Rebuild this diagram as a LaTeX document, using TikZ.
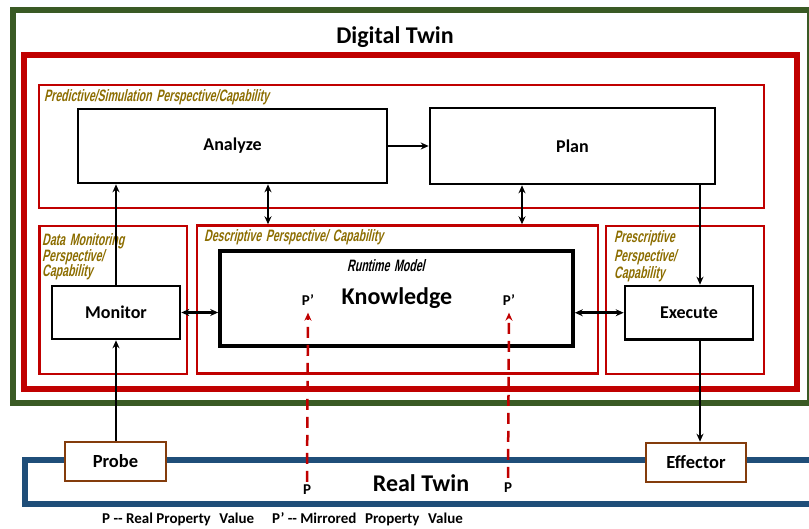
\documentclass[tikz,border=0pt]{standalone}
\usepackage{fontspec}
\setmainfont{Carlito}
\newfontfamily\labfont[FakeStretch=0.64,FakeSlant=0.22,WordSpace=1.6]{Liberation Sans}
\usetikzlibrary{arrows.meta,calc}
\definecolor{dtgreen}{HTML}{3A5A24}
\definecolor{dtred}{HTML}{C00000}
\definecolor{rtblue}{HTML}{1F4E79}
\definecolor{pbrown}{HTML}{843C0C}
\definecolor{labgold}{HTML}{8C6D00}
\tikzset{
  box/.style={draw=black,line width=2.6pt,fill=white,font=\bfseries\fontsize{18}{20}\selectfont,inner sep=0pt},
  frame/.style={draw=dtred,line width=2.4pt,inner sep=0pt},
  devbox/.style={draw=pbrown,line width=2.6pt,fill=white,font=\bfseries\fontsize{18.5}{20}\selectfont,inner sep=0pt},
  lab/.style={text=labgold,font=\labfont\bfseries\fontsize{16.5}{17}\selectfont,anchor=base west,inner sep=0pt},
  arr/.style={line width=2.5pt,-{Stealth[length=8pt,width=7pt]}},
  darr/.style={line width=2.5pt,{Stealth[length=8pt,width=7pt]}-{Stealth[length=8pt,width=7pt]}},
  redarr/.style={draw=dtred,line width=2.5pt,dash pattern=on 11pt off 7pt,-{Stealth[length=8pt,width=7pt]}},
  ptext/.style={font=\bfseries\fontsize{15}{16}\selectfont,inner sep=1pt},
  bigtext/.style={font=\bfseries\fontsize{24}{26}\selectfont}
}
\begin{document}
\begin{tikzpicture}[x=1pt,y=-1pt]
\useasboundingbox (0,0) rectangle (809,529);
% outer frames
\draw[dtgreen,line width=6pt] (13,10) rectangle (810,403);
\draw[dtred,line width=6pt] (24,55) rectangle (797,389);
\draw[rtblue,line width=6pt] (25,460) rectangle (812,504);
\node[bigtext] (dt) at (395,37) {Digital Twin};
\node[bigtext] (rt) at (421,483) {Real Twin};
% perspective frames
\node[frame,minimum width=725pt,minimum height=123pt] (pred) at (401.5,146.5) {};
\node[frame,minimum width=147.5pt,minimum height=148pt] (monf) at (113.25,300) {};
\node[frame,minimum width=401pt,minimum height=148pt] (desc) at (397.5,299.5) {};
\node[frame,minimum width=158pt,minimum height=148pt] (presc) at (685,300) {};
% labels
\node[lab] (predl) at (44,102) {Predictive/Simulation Perspective/Capability};
\node[lab] (monl1) at (42,246) {Data Monitoring};
\node[lab] (monl2) at (42,261.5) {Perspective/};
\node[lab] (monl3) at (42,277) {Capability};
\node[lab] (descl) at (204,242) {Descriptive Perspective/ Capability};
\node[lab] (prescl1) at (614,243) {Prescriptive};
\node[lab] (prescl2) at (614,261.5) {Perspective/};
\node[lab] (prescl3) at (614,279) {Capability};
% boxes
\node[box,minimum width=309pt,minimum height=74pt] (ana) at (232.5,146) {Analyze};
\node[box,minimum width=285pt,minimum height=76pt] (pl) at (572.5,146) {Plan};
\node[box,minimum width=128pt,minimum height=53pt] (mon) at (116,312.5) {Monitor};
\node[box,line width=3.6pt,minimum width=353pt,minimum height=95pt] (kn) at (396.5,298.5) {};
\node[box,minimum width=128pt,minimum height=53.5pt] (ex) at (689,312.75) {Execute};
\node[devbox,minimum width=101pt,minimum height=39pt] (pr) at (115.5,461.5) {Probe};
\node[devbox,minimum width=100pt,minimum height=39pt] (ef) at (696,462.5) {Effector};
\node[bigtext] (knt) at (397,298) {Knowledge};
\node[lab,text=black] (rm) at (347,272) {Runtime Model};
% P labels
\node[ptext] (pp1) at (308,300) {P’};
\node[ptext] (pp2) at (509,300) {P’};
\node[ptext] (p1) at (307,490) {P};
\node[ptext] (p2) at (508,488) {P};
\node[font=\bfseries\fontsize{15}{16}\selectfont,anchor=west,inner sep=0pt] (legend) at (102,519) {P -{}- Real Property\hspace{0.35em} Value\hspace{1.2em}P’ -{}- Mirrored\hspace{0.35em} Property\hspace{0.35em} Value};
% helper coordinates
\coordinate (xa) at (268,0);
\coordinate (xb) at (522,0);
\coordinate (xe) at (700,0);
% connectors
\draw[arr] (ana.east) -- (pl.west |- ana.east);
\draw[arr] (mon.north) -- (ana.south -| mon.north);
\draw[arr] (pr.north -| mon.south) -- (mon.south);
\draw[darr] (ana.south -| xa) -- (desc.north -| xa);
\draw[darr] (pl.south -| xb) -- (desc.north -| xb);
\draw[darr] (mon.east) -- (kn.west |- mon.east);
\draw[darr] (kn.east |- ex.west) -- (ex.west);
\draw[arr] (pl.south -| xe) -- (ex.north -| xe);
\draw[arr] (ex.south -| xe) -- (ef.north -| xe);
\draw[redarr] ([yshift=2pt]p1.north) -- ([yshift=-6pt]pp1.south);
\draw[redarr] ([yshift=4pt]p2.north) -- ([yshift=-6pt]pp2.south);
\end{tikzpicture}
\end{document}
